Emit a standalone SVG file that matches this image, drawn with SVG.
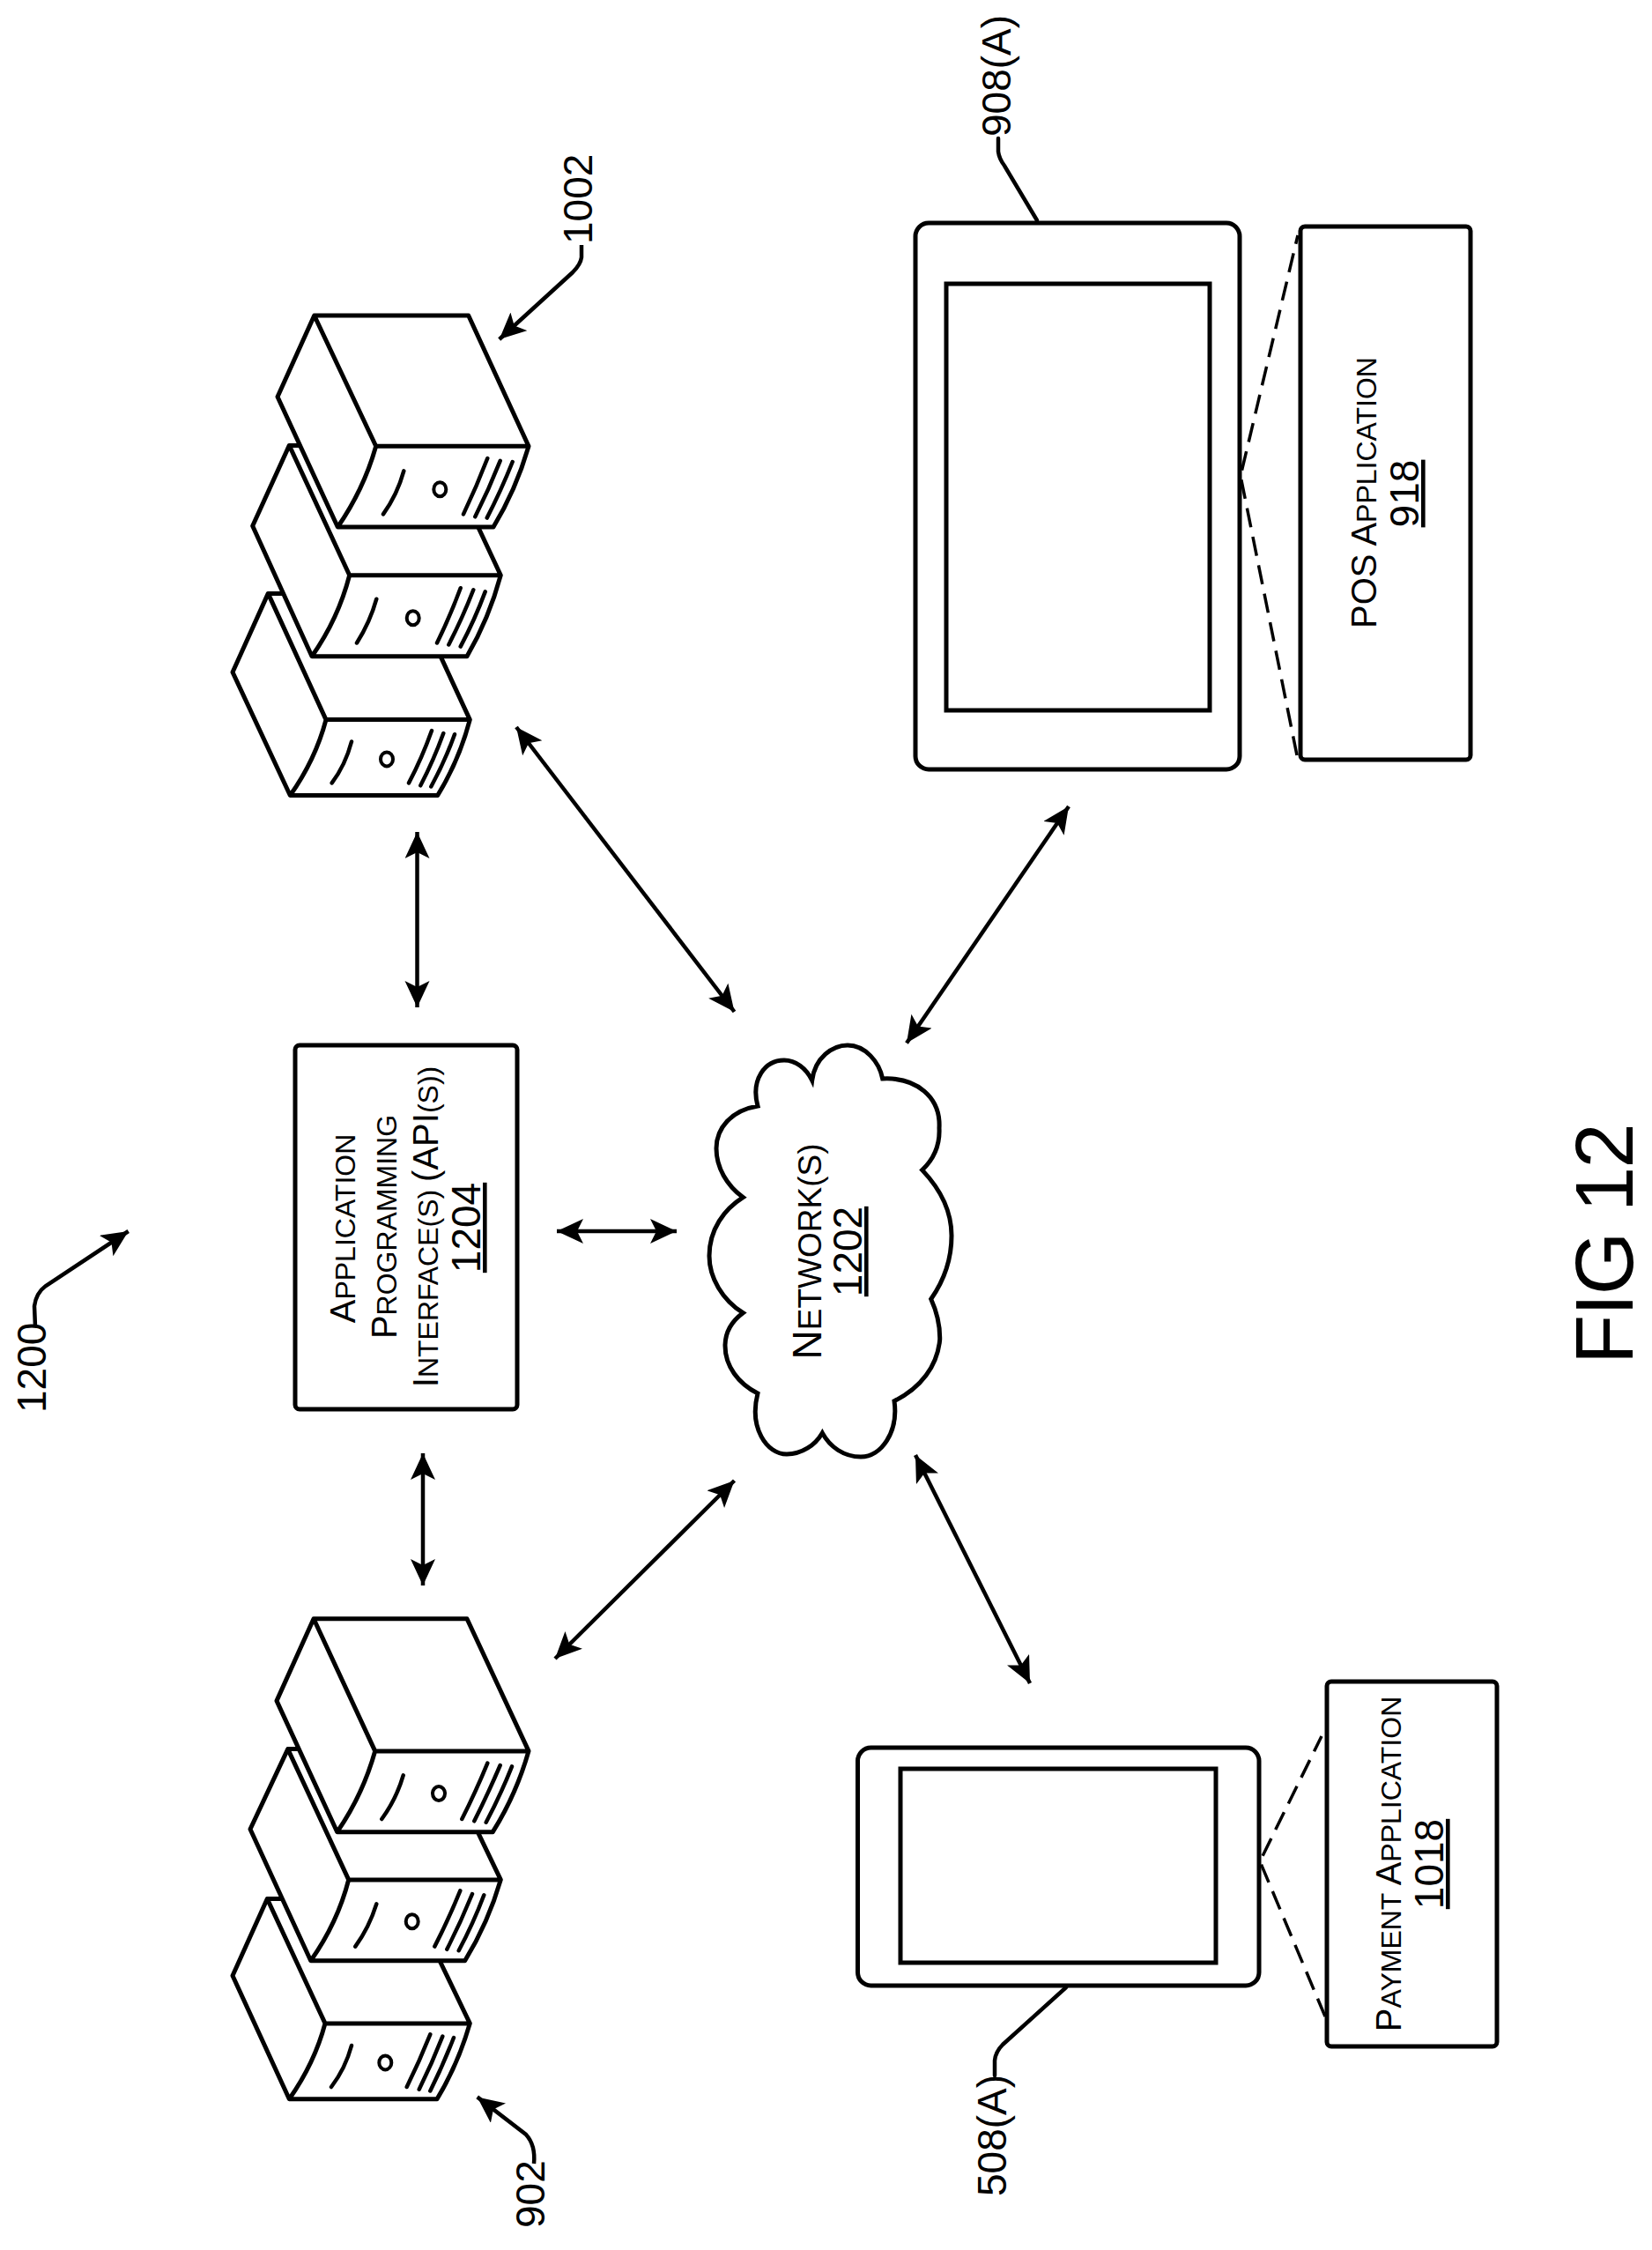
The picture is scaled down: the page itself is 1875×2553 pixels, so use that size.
<svg xmlns="http://www.w3.org/2000/svg" width="1875" height="2553" viewBox="0 0 1875 2553">
<style>
text{font-family:"Liberation Sans",Arial,sans-serif;fill:#000;font-size:46px}
text.cap{font-size:40px}
.sc{font-size:32px;text-transform:uppercase}
.nsc{font-size:37px;text-transform:uppercase}
.box{fill:#fff;stroke:#000;stroke-width:5}
.sv{fill:#fff;stroke:#000;stroke-width:5;stroke-linejoin:round}
.mk{fill:none;stroke:#000;stroke-width:4.5;stroke-linecap:round}
.hole{fill:#fff;stroke:#000;stroke-width:4}
.dash{fill:none;stroke:#000;stroke-width:3.5;stroke-dasharray:22 11}
.conn{fill:none;stroke:#000;stroke-width:4.5;marker-end:url(#ah)}
.both{marker-start:url(#ah)}
.m{text-anchor:middle}
</style>
<defs>
<marker id="ah" markerUnits="userSpaceOnUse" markerWidth="32" markerHeight="30" refX="30" refY="14" orient="auto-start-reverse">
<path d="M30,14 L0,0 L7,14 L0,28 Z" fill="#000"/>
</marker>
</defs>
<rect width="1875" height="2553" fill="#fff"/>

<g id="servers-1002">
<g id="server-1002-c">
<path class="sv" d="M304.3,673.4 L467,673.4 L533.3,816.6 Q521,863 496.7,902.5 L329.3,902.5 L264,762.7 Z M304.3,673.4 L370,816.6 Q358,862 329.3,902.5 M370,816.6 H533.3"/>
<path class="mk" d="M399,841.5 Q392,868 376.7,888.4 M490,829 Q479,860 464,888.4 M503.3,832 Q492,863 477.3,891.3 M516,833.2 Q505,864 489.3,892.5"/>
<ellipse class="hole" cx="439" cy="861.4" rx="7" ry="8"/>
</g>
<g id="server-1002-b">
<path class="sv" d="M328.3,505.4 L499.3,505.4 L568.3,652.7 Q555,702 530,744.8 L354,744.8 L286.7,596.7 Z M328.3,505.4 L396.7,652.7 Q384,702 354,744.8 M396.7,652.7 H568.3"/>
<path class="mk" d="M427.3,679.7 Q420,706 405,729.5 M522.7,667.2 Q511,699 496,729.5 M537.3,669.3 Q525,701 509.3,731.5 M550.7,671.4 Q539,703 522.7,733.6"/>
<ellipse class="hole" cx="468.7" cy="701.2" rx="7" ry="8"/>
</g>
<g id="server-1002-a">
<path class="sv" d="M356.7,358 L531.7,358 L600,506.2 Q586,555 560,598 L383.3,598 L315,450.2 Z M356.7,358 L426.7,506.2 Q413,555 383.3,598 M426.7,506.2 H600"/>
<path class="mk" d="M458.3,534.4 Q451,561 435,583.4 M553.3,520 Q541,552 526,583.4 M567.7,522.8 Q555,555 539.3,586.3 M581.7,524 Q569,556 552.7,587.6"/>
<ellipse class="hole" cx="499.3" cy="555.2" rx="7" ry="8"/>
</g>
</g>

<g id="servers-902">
<g id="server-902-c">
<path class="sv" d="M303.3,2154.5 L465.3,2154.5 L533.3,2295.9 Q520,2342 496,2381.7 L328.3,2381.7 L264,2241.7 Z M303.3,2154.5 L369,2295.9 Q357,2341 328.3,2381.7 M369,2295.9 H533.3"/>
<path class="mk" d="M399,2321 Q392,2347 376,2368 M488.3,2308.3 Q476,2339 461.7,2368 M502.3,2310.6 Q490,2342 475.7,2370.7 M515,2312 Q503,2343 488.3,2372.5"/>
<ellipse class="hole" cx="437.3" cy="2340.4" rx="7" ry="8"/>
</g>
<g id="server-902-b">
<path class="sv" d="M326.7,1984.6 L497,1984.6 L568.3,2132.9 Q554,2182 527.7,2224.7 L352.7,2224.7 L284,2075.5 Z M326.7,1984.6 L395.7,2132.9 Q383,2182 352.7,2224.7 M395.7,2132.9 H568.3"/>
<path class="mk" d="M427.3,2160.4 Q419,2187 403.3,2208.6 M522.3,2145.3 Q509,2178 493.3,2208.6 M536,2149 Q523,2181 507.3,2211.8 M549.3,2150.3 Q537,2183 520.7,2213.2"/>
<ellipse class="hole" cx="467.7" cy="2180.2" rx="7" ry="8"/>
</g>
<g id="server-902-a">
<path class="sv" d="M356,1836.7 L530,1836.7 L600,1986.9 Q586,2036 559.3,2078.7 L382.7,2078.7 L314,1929.9 Z M356,1836.7 L425.7,1986.9 Q412,2036 382.7,2078.7 M425.7,1986.9 H600"/>
<path class="mk" d="M457.7,2014.4 Q450,2041 433.3,2064 M553.3,2000.6 Q540,2033 524.3,2064 M567.7,2003 Q554,2035 538.3,2066.3 M581,2004.3 Q568,2037 551.7,2067.7"/>
<ellipse class="hole" cx="498" cy="2035" rx="7" ry="8"/>
</g>
</g>

<g id="api-1204">
<rect class="box" x="335" y="1186" width="252" height="413" rx="5"/>
<text class="m cap" transform="translate(403,1394) rotate(-90)">A<tspan class="sc">pplication</tspan></text>
<text class="m cap" transform="translate(450,1392) rotate(-90)">P<tspan class="sc">rogramming</tspan></text>
<text class="m cap" transform="translate(497,1392) rotate(-90)">I<tspan class="sc">nterface(s) </tspan>(API<tspan class="sc">(s))</tspan></text>
<text class="m" transform="translate(545,1393) rotate(-90)" text-decoration="underline">1204</text>
</g>

<g id="network-1202">
<path class="box" d="M921.7,1225.9 C925,1200 945,1186 962,1186 C982,1186 998,1205 1001.7,1224 C1040,1222 1068,1245 1066,1280 C1067,1300 1060,1315 1046.7,1327.6 C1068,1350 1080,1375 1080,1402 C1080,1430 1070,1455 1056.7,1474 C1064,1490 1067,1505 1066.7,1520 C1064,1550 1045,1575 1015,1589.7 C1020,1625 1000,1653 977,1653 C958,1653 942,1642 933.3,1625.9 C925,1640 910,1650 893,1650 C870,1650 850,1620 860,1581 C838,1570 823,1550 823,1527 C823,1510 832,1498 843.3,1489.7 C820,1475 805,1450 805,1425 C805,1395 822,1372 843.3,1358.6 C825,1345 813,1325 813,1303 C813,1280 830,1260 860,1255 C852,1225 868,1203 890,1203 C903,1203 915,1212 921.7,1225.9 Z"/>
<text class="m" transform="translate(932,1420) rotate(-90)">N<tspan class="nsc">etwork(s)</tspan></text>
<text class="m" transform="translate(978,1420) rotate(-90)" text-decoration="underline">1202</text>
</g>

<g id="pos-908A">
<rect class="box" x="1039" y="253" width="368" height="620" rx="15"/>
<rect class="box" x="1074" y="322" width="299" height="484"/>
</g>
<g id="pos-app-918">
<rect class="box" x="1476" y="257" width="193" height="605" rx="5"/>
<path class="dash" d="M1472,857 L1408,540 L1473,267"/>
<text class="m cap" transform="translate(1562,559) rotate(-90)">POS A<tspan class="sc">pplication</tspan></text>
<text class="m" transform="translate(1610,560) rotate(-90)" text-decoration="underline">918</text>
</g>

<g id="phone-508A">
<rect class="box" x="973.5" y="1983" width="455.5" height="270" rx="15"/>
<rect class="box" x="1022" y="2007" width="358" height="220"/>
</g>
<g id="payment-app-1018">
<rect class="box" x="1506" y="1908" width="193" height="414" rx="5"/>
<path class="dash" d="M1504,2288 L1430,2112 L1500,1970"/>
<text class="m cap" transform="translate(1590,2115) rotate(-90)">P<tspan class="sc">ayment </tspan>A<tspan class="sc">pplication</tspan></text>
<text class="m" transform="translate(1638,2115) rotate(-90)" text-decoration="underline">1018</text>
</g>

<g id="connectors">
<path class="conn both" d="M473.5,944 L473.5,1143"/>
<path class="conn both" d="M586,825 L833.5,1148"/>
<path class="conn both" d="M1213,915 L1029,1183.5"/>
<path class="conn both" d="M632,1397 L768,1397"/>
<path class="conn both" d="M480,1649 L480,1799"/>
<path class="conn both" d="M630,1882 L833.5,1680"/>
<path class="conn both" d="M1169,1910 L1039,1651"/>
<path class="conn" d="M660,278 L660,292 Q659,300 650,309 L566.7,385"/>
<path class="conn" d="M40,1505 L39,1482 Q41,1467 52,1459 L145.7,1397"/>
<path class="conn" d="M606,2455 Q608,2434 597,2422 L541.7,2379.4"/>
<path class="mk" d="M1133,157 L1133,172 Q1134,180 1140,188 L1177,250"/>
<path class="mk" d="M1129,2355 L1129,2338 Q1130,2328 1138,2320 L1210,2255"/>
</g>

<g id="labels">
<text transform="translate(672,277) rotate(-90)">1002</text>
<text transform="translate(52,1603) rotate(-90)">1200</text>
<text transform="translate(618,2528) rotate(-90)">902</text>
<text transform="translate(1147,155) rotate(-90)">908(A)</text>
<text transform="translate(1142,2492) rotate(-90)">508(A)</text>
<text transform="translate(1853,1548) rotate(-90)" style="font-size:92px;letter-spacing:-1.5px">FIG 12</text>
</g>
</svg>
